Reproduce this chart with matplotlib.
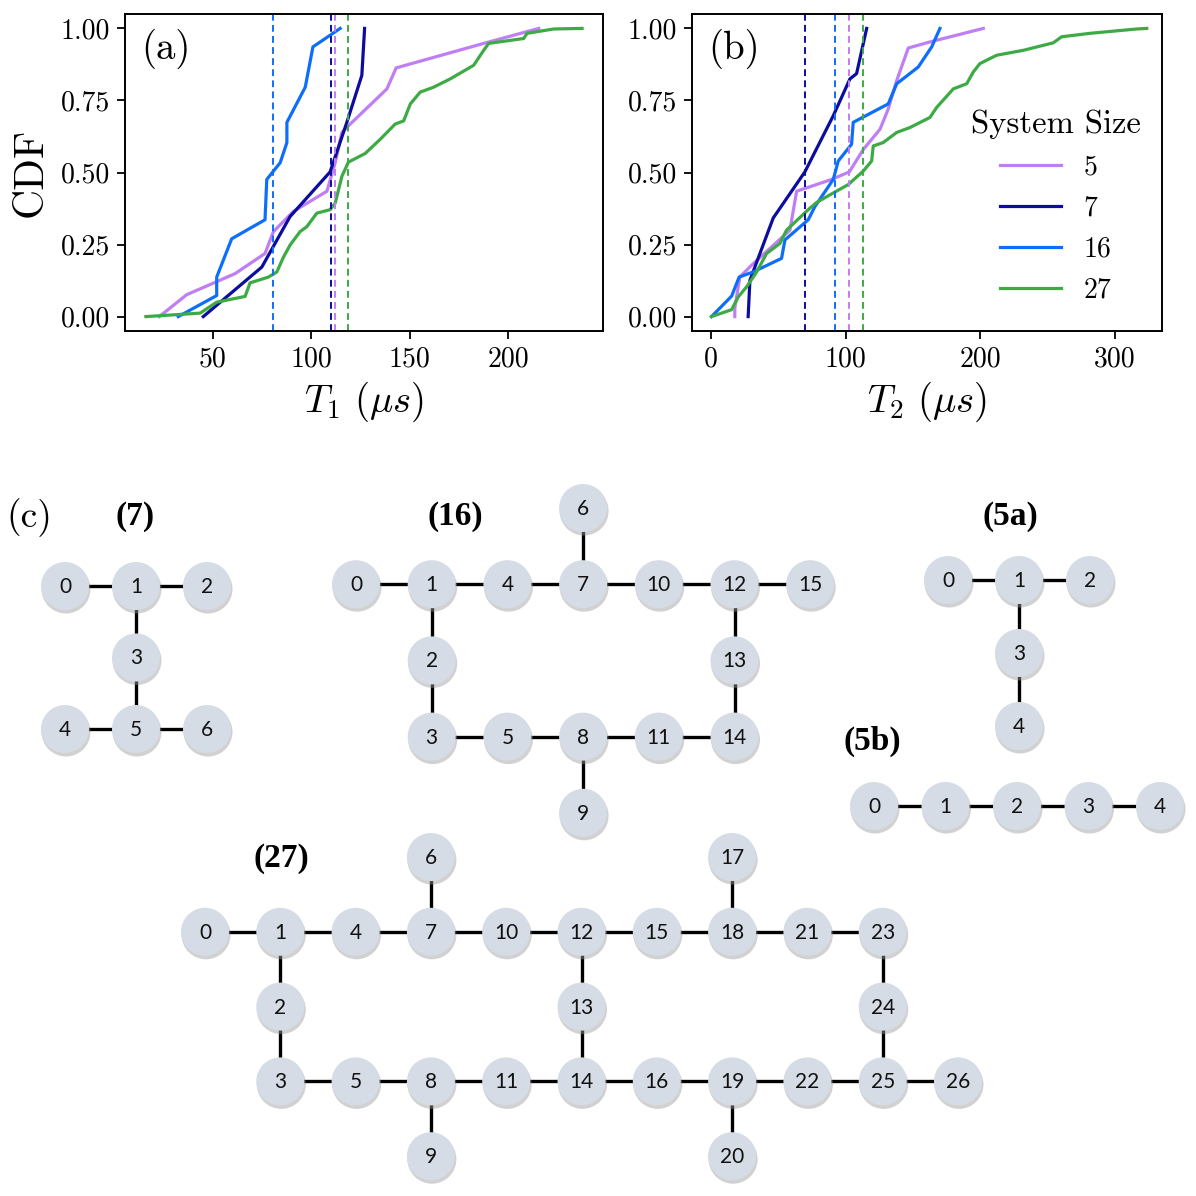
import matplotlib
matplotlib.use("Agg")
import matplotlib.pyplot as plt
from matplotlib.patches import Circle

plt.rcParams['font.family'] = 'serif'
plt.rcParams['font.serif'] = ['cmr10']
plt.rcParams['mathtext.fontset'] = 'cm'
plt.rcParams['axes.unicode_minus'] = False
plt.rcParams['axes.formatter.use_mathtext'] = True

# ---------------- data: CDF of T1 ----------------
t1_5_x = [23, 36.9, 61.4, 76.6, 80.9, 91, 108, 112.2, 115.6, 119.8, 138.4, 143.1, 187.5, 215.4]
t1_5_y = [0.0, 0.076, 0.149, 0.219, 0.295, 0.365, 0.435, 0.534, 0.639, 0.668, 0.79, 0.863, 0.948, 1.0]
t1_7_x = [45.3, 75, 89.3, 109.6, 118.1, 125.7, 127.1]
t1_7_y = [0.0, 0.172, 0.347, 0.502, 0.674, 0.837, 1.0]
t1_16_x = [32.6, 52.1, 52.1, 59.7, 76.6, 77.5, 84.3, 87.7, 87.7, 97, 100.9, 104.6, 114.7]
t1_16_y = [0.0, 0.073, 0.137, 0.27, 0.336, 0.476, 0.534, 0.604, 0.674, 0.796, 0.936, 0.953, 1.0]
t1_27_x = [16.2, 43.7, 52.1, 66.5, 69, 78.3, 82.6, 86, 89.3, 94.4, 97.8, 102.9, 109.6, 112.2,
           115.6, 118.9, 127.4, 135, 142.6, 146.9, 150.3, 155.3, 162.1, 170.6, 182.4, 187.5,
           190, 207.8, 209.5, 223, 237.4]
t1_27_y = [0.0, 0.012, 0.05, 0.07, 0.117, 0.137, 0.155, 0.207, 0.248, 0.295, 0.312, 0.359,
           0.371, 0.394, 0.487, 0.536, 0.566, 0.615, 0.668, 0.679, 0.738, 0.779, 0.796, 0.825,
           0.872, 0.924, 0.948, 0.965, 0.983, 0.998, 1.0]
t1_means = [112.2, 110.0, 80.9, 118.9]   # sizes 5, 7, 16, 27

# ---------------- data: CDF of T2 ----------------
t2_5_x = [17.8, 17.8, 21.5, 30.2, 58.7, 63.7, 89.7, 102.8, 113.2, 125.6, 131.7, 138, 146.6, 162.7, 202.3]
t2_5_y = [0.0, 0.03, 0.137, 0.178, 0.3, 0.435, 0.476, 0.502, 0.58, 0.65, 0.72, 0.819, 0.932, 0.953, 1.0]
t2_7_x = [27.7, 29, 46.3, 69.8, 90.9, 103.3, 108.2, 115.7]
t2_7_y = [0.0, 0.126, 0.342, 0.502, 0.697, 0.825, 0.843, 1.0]
t2_16_x = [0.5, 15.4, 21, 31.4, 52.5, 55, 72.3, 77.3, 90.9, 94.6, 104.5, 105.7, 131.7, 138, 154, 164, 170.1]
t2_16_y = [0.0, 0.071, 0.137, 0.155, 0.202, 0.266, 0.336, 0.382, 0.476, 0.54, 0.598, 0.674, 0.738,
           0.808, 0.866, 0.936, 1.0]
t2_27_x = [0.5, 15.4, 20.3, 26.5, 34, 41.4, 51.3, 56.2, 72.3, 78.5, 90.9, 102, 113.2, 119.4, 120.6,
           128, 138, 147.8, 162.7, 167.7, 180, 190, 194.9, 199.8, 212.3, 232, 254.3, 260.5, 281.6,
           316.3, 323.7]
t2_27_y = [0.0, 0.024, 0.068, 0.103, 0.155, 0.219, 0.254, 0.3, 0.371, 0.396, 0.429, 0.458, 0.505,
           0.54, 0.592, 0.604, 0.639, 0.656, 0.691, 0.726, 0.79, 0.808, 0.849, 0.878, 0.907, 0.924,
           0.95, 0.971, 0.983, 0.998, 1.0]
t2_means = [102.8, 69.8, 92.1, 112.7]

sizes = ['5', '7', '16', '27']
colors = ['#c07ef5', '#0c0c9e', '#0d6efc', '#3daa45']

yticks = [0.0, 0.25, 0.5, 0.75, 1.0]
ytick_labels = ['0.00', '0.25', '0.50', '0.75', '1.00']
t1_ticks = [50, 100, 150, 200]
t2_ticks = [0, 100, 200, 300]

# ---------------- data: device graphs ----------------
g7_nodes = [0, 1, 2, 3, 4, 5, 6]
g7_cols = [0, 1, 2, 1, 0, 1, 2]
g7_rows = [0, 0, 0, 1, 2, 2, 2]
g7_edges = [(0, 1), (1, 2), (1, 3), (3, 5), (4, 5), (5, 6)]

g16_nodes = [0, 1, 4, 7, 10, 12, 15, 6, 2, 13, 3, 5, 8, 11, 14, 9]
g16_cols = [0, 1, 2, 3, 4, 5, 6, 3, 1, 5, 1, 2, 3, 4, 5, 3]
g16_rows = [1, 1, 1, 1, 1, 1, 1, 0, 2, 2, 3, 3, 3, 3, 3, 4]
g16_edges = [(0, 1), (1, 4), (4, 7), (7, 10), (10, 12), (12, 15), (6, 7), (1, 2), (2, 3),
             (3, 5), (5, 8), (8, 11), (11, 14), (12, 13), (13, 14), (8, 9)]

g5a_nodes = [0, 1, 2, 3, 4]
g5a_cols = [0, 1, 2, 1, 1]
g5a_rows = [0, 0, 0, 1, 2]
g5a_edges = [(0, 1), (1, 2), (1, 3), (3, 4)]

g5b_nodes = [0, 1, 2, 3, 4]
g5b_cols = [0, 1, 2, 3, 4]
g5b_rows = [0, 0, 0, 0, 0]
g5b_edges = [(0, 1), (1, 2), (2, 3), (3, 4)]

g27_nodes = [0, 1, 4, 7, 10, 12, 15, 18, 21, 23, 6, 17, 2, 13, 24,
             3, 5, 8, 11, 14, 16, 19, 22, 25, 26, 9, 20]
g27_cols = [0, 1, 2, 3, 4, 5, 6, 7, 8, 9, 3, 7, 1, 5, 9,
            1, 2, 3, 4, 5, 6, 7, 8, 9, 10, 3, 7]
g27_rows = [1, 1, 1, 1, 1, 1, 1, 1, 1, 1, 0, 0, 2, 2, 2,
            3, 3, 3, 3, 3, 3, 3, 3, 3, 3, 4, 4]
g27_edges = [(0, 1), (1, 4), (4, 7), (7, 10), (10, 12), (12, 15), (15, 18), (18, 21), (21, 23),
             (6, 7), (17, 18), (1, 2), (2, 3), (12, 13), (13, 14), (23, 24), (24, 25),
             (3, 5), (5, 8), (8, 11), (11, 14), (14, 16), (16, 19), (19, 22), (22, 25), (25, 26),
             (8, 9), (19, 20)]

# ---------------- figure ----------------
W = 1196
fig = plt.figure(figsize=(11.96, 11.96), dpi=100)

def fx(px):
    return px / W

axA = fig.add_axes([fx(125), 1 - fx(331), fx(478), fx(317)])
axB = fig.add_axes([fx(692), 1 - fx(331), fx(470), fx(317)])

seriesA = [(t1_5_x, t1_5_y), (t1_7_x, t1_7_y), (t1_16_x, t1_16_y), (t1_27_x, t1_27_y)]
seriesB = [(t2_5_x, t2_5_y), (t2_7_x, t2_7_y), (t2_16_x, t2_16_y), (t2_27_x, t2_27_y)]

for ax, series, means, ticks, xl, lab, xlabel in [
        (axA, seriesA, t1_means, t1_ticks, (5.6, 248), '(a)', r'$T_1\ (\mu s)$'),
        (axB, seriesB, t2_means, t2_ticks, (-14, 335), '(b)', r'$T_2\ (\mu s)$')]:
    for (xs, ys), c, s in zip(series, colors, sizes):
        ax.plot(xs, ys, color=c, lw=2.3, label=s)
    for m, c in zip(means, colors):
        ax.axvline(m, color=c, lw=1.4, ls=(0, (3.5, 2.2)))
    ax.set_xlim(*xl)
    ax.set_ylim(-0.05, 1.05)
    ax.set_xticks(ticks)
    ax.set_xticklabels([str(t) for t in ticks])
    ax.set_yticks(yticks)
    ax.set_yticklabels(ytick_labels)
    ax.tick_params(labelsize=20, width=1.3, length=6, pad=5)
    for sp in ax.spines.values():
        sp.set_linewidth(1.4)
    ax.set_xlabel(xlabel, fontsize=28, labelpad=5)
    ax.text(0.035, 0.955, lab, transform=ax.transAxes, fontsize=28, va='top', ha='left')

axA.set_ylabel('CDF', fontsize=30, labelpad=8)

leg = axB.legend(loc='center left', bbox_to_anchor=(0.54, 0.392), frameon=False,
                 title='System Size', fontsize=20, title_fontsize=23.5,
                 handlelength=2.2, labelspacing=0.53, handletextpad=0.8)
leg._legend_box.align = 'center'

# ---------------- graph panel ----------------
top_px = 460
axG = fig.add_axes([0, 0, 1, 1 - fx(top_px)])
axG.set_xlim(0, W)
axG.set_ylim(W, top_px)
axG.axis('off')

R = 24
node_face = '#d6dce5'

def draw_graph(nodes, cols, rows, edges, x0, y0, dx, dy):
    pos = {n: (x0 + c * dx, y0 + r * dy) for n, c, r in zip(nodes, cols, rows)}
    for a, b in edges:
        (xa, ya), (xb, yb) = pos[a], pos[b]
        axG.plot([xa, xb], [ya, yb], color='black', lw=2.4, zorder=1, solid_capstyle='butt')
    for n in nodes:
        x, y = pos[n]
        axG.add_patch(Circle((x + 1, y + 3), R + 0.5, facecolor='#9a9a9a', alpha=0.45,
                             edgecolor='none', zorder=2))
        axG.add_patch(Circle((x, y), R, facecolor=node_face, edgecolor='none', zorder=3))
        axG.text(x, y + 1, str(n), ha='center', va='center', fontsize=15,
                 family='Lato', color='#111111', zorder=4)

draw_graph(g7_nodes, g7_cols, g7_rows, g7_edges, 65, 586, 71, 71.5)
draw_graph(g16_nodes, g16_cols, g16_rows, g16_edges, 356, 508, 75.7, 76.2)
draw_graph(g5a_nodes, g5a_cols, g5a_rows, g5a_edges, 948, 580, 71, 73)
draw_graph(g5b_nodes, g5b_cols, g5b_rows, g5b_edges, 874, 806, 71.5, 0)
draw_graph(g27_nodes, g27_cols, g27_rows, g27_edges, 205, 857, 75.3, 74.8)

axG.text(29, 518, '(c)', fontsize=27, ha='center', va='center')
for txt, x, y in [('(7)', 135, 516), ('(16)', 455, 516), ('(5a)', 1010, 516),
                  ('(5b)', 872, 741), ('(27)', 281, 858)]:
    axG.text(x, y, txt, fontsize=24, fontweight='bold', family=['Liberation Serif'],
             ha='center', va='center')

fig.savefig('out.png', dpi=100)
